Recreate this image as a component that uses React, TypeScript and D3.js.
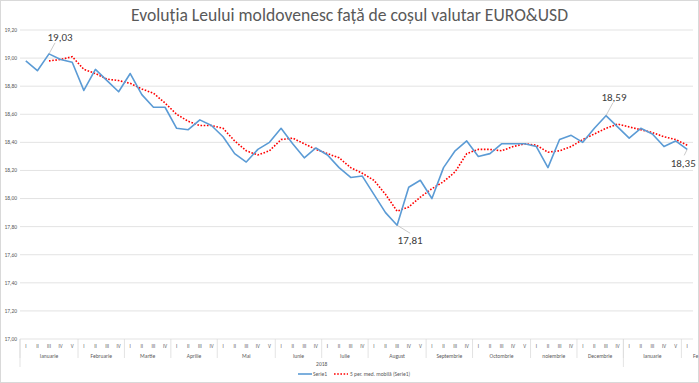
import React from "react";
import * as d3 from "d3";

const TITLE = "Evoluția Leului moldovenesc față de coșul valutar EURO&USD";
const months = ["Ianuarie", "Februarie", "Martie", "Aprilie", "Mai", "Iunie", "Iulie", "August", "Septembrie", "Octombrie", "noiembrie", "Decembrie", "Ianuarie", "Fe"];
const weeksPerMonth = [5, 4, 4, 4, 5, 4, 4, 5, 4, 5, 4, 4, 5, 1];
const romanWeeks = ["I", "II", "III", "IV", "V"];
const years = ["2018", ""];
const monthsPerYear = [12, 2];
const yTicks = [17.0, 17.2, 17.4, 17.6, 17.8, 18.0, 18.2, 18.4, 18.6, 18.8, 19.0, 19.2];

const serie1 = [
  18.98, 18.91, 19.03, 18.99, 18.97, 18.77, 18.92, 18.84, 18.76, 18.89,
  18.74, 18.65, 18.65, 18.50, 18.49, 18.56, 18.52, 18.44, 18.32, 18.26,
  18.35, 18.40, 18.50, 18.39, 18.29, 18.36, 18.31, 18.22, 18.15, 18.16,
  18.03, 17.90, 17.81, 18.08, 18.13, 18.00, 18.22, 18.34, 18.41, 18.30,
  18.32, 18.39, 18.39, 18.39, 18.37, 18.22, 18.42, 18.45, 18.40, 18.50,
  18.59, 18.51, 18.43, 18.50, 18.46, 18.37, 18.41, 18.35,
];
const movingAvg: (number | null)[] = [
  null, null, 18.98, 18.99, 19.01, 18.92, 18.89, 18.85, 18.84, 18.82,
  18.78, 18.75, 18.68, 18.60, 18.55, 18.52, 18.52, 18.50, 18.41, 18.34,
  18.31, 18.34, 18.42, 18.43, 18.39, 18.35, 18.32, 18.29, 18.22, 18.18,
  18.13, 18.03, 17.91, 17.94, 18.01, 18.07, 18.12, 18.19, 18.32, 18.35,
  18.35, 18.34, 18.37, 18.39, 18.38, 18.33, 18.34, 18.37, 18.42, 18.46,
  18.50, 18.53, 18.51, 18.49, 18.47, 18.44, 18.42, 18.38,
];
const legendNames = ["Serie1", "5 per. med. mobilă (Serie1)"];
const annotations = [
  { i: 2, dx: 11, dy: -17, lx: 6, ly: -11 },
  { i: 32, dx: 13, dy: 15, lx: 13, ly: 8 },
  { i: 50, dx: 8, dy: -19, lx: 7, ly: -13 },
  { i: 57, dx: -4, dy: 14, lx: -3, ly: 6 },
];

const W = 699, H = 383;
const L = 20, R = 693, T = 30, B = 339;
const FONT = "Calibri, Carlito, 'Open Sans', 'Liberation Sans', sans-serif";
const GRID = "#d9d9d9";
const TXT = "#595959";

const locale = d3.formatLocale({ decimal: ",", thousands: ".", grouping: [3], currency: ["", ""] });
const fmt = locale.format(".2f");

export default function App() {
  const idx = serie1.map((_, i) => i);
  const x = d3.scaleBand<number>().domain(idx).range([L, R]).padding(0);
  const cx = (i: number) => (x(i) as number) + x.bandwidth() / 2;
  const y = d3.scaleLinear().domain([17, 19.2]).range([B, T]);

  const line1 = d3.line<number>().x((_, i) => cx(i)).y((d) => y(d));
  const line2 = d3
    .line<number | null>()
    .defined((d) => d != null)
    .x((_, i) => cx(i))
    .y((d) => y(d as number));

  const weekLabels: { i: number; t: string }[] = [];
  const monthSpans: { start: number; end: number; name: string }[] = [];
  let k = 0;
  weeksPerMonth.forEach((n, m) => {
    monthSpans.push({ start: k, end: k + n, name: months[m] });
    for (let w = 0; w < n; w++) weekLabels.push({ i: k + w, t: romanWeeks[w] });
    k += n;
  });
  const yearSpans: { start: number; end: number; name: string }[] = [];
  let mm = 0;
  monthsPerYear.forEach((n, yi) => {
    const s = monthSpans[mm].start;
    const e = monthSpans[mm + n - 1].end;
    yearSpans.push({ start: s, end: e, name: years[yi] });
    mm += n;
  });
  const edge = (i: number) => (i >= idx.length ? R : (x(i) as number));

  return (
    <svg width={W} height={H} style={{ position: "absolute", left: 0, top: 0, background: "#fff" }} fontFamily={FONT}>
      <rect x={0.5} y={0.5} width={W - 1} height={H - 1} fill="#fff" stroke={GRID} />
      <text x={W / 2} y={21} textAnchor="middle" fontSize={17.6} fill={TXT}>
        {TITLE}
      </text>
      {yTicks.map((t) => (
        <g key={t}>
          <line x1={L} x2={R} y1={y(t)} y2={y(t)} stroke={GRID} strokeWidth={0.75} />
          <text x={17} y={y(t)} dy="0.35em" textAnchor="end" fontSize={5.5} fill={TXT}>
            {fmt(t)}
          </text>
        </g>
      ))}
      <g>
        {weekLabels.map((w) => (
          <text key={w.i} x={cx(w.i)} y={346} dy="0.35em" textAnchor="middle" fontSize={5} fill={TXT}>
            {w.t}
          </text>
        ))}
        {monthSpans.map((s, j) => {
          const x0 = edge(s.start);
          const x1 = edge(s.end);
          const full = x1 - x0 > 20;
          return (
            <text
              key={j}
              x={full ? (x0 + x1) / 2 : x1}
              y={356}
              dy="0.35em"
              textAnchor={full ? "middle" : "start"}
              fontSize={5.5}
              fill={TXT}
            >
              {s.name}
            </text>
          );
        })}
        {monthSpans.map((s, j) => (
          <line key={"ms" + j} x1={edge(s.start)} x2={edge(s.start)} y1={B} y2={358} stroke={GRID} strokeWidth={0.75} />
        ))}
        {yearSpans.map((s, j) => (
          <g key={"ys" + j}>
            <line x1={edge(s.start)} x2={edge(s.start)} y1={B} y2={367} stroke={GRID} strokeWidth={0.75} />
            <text x={(edge(s.start) + edge(s.end)) / 2} y={364} dy="0.35em" textAnchor="middle" fontSize={5.5} fill={TXT}>
              {s.name}
            </text>
          </g>
        ))}
      </g>
      <path d={line2(movingAvg) || ""} fill="none" stroke="#ff0000" strokeWidth={1.6} strokeDasharray="1.6,1.6" />
      <path d={line1(serie1) || ""} fill="none" stroke="#5b9bd5" strokeWidth={1.6} strokeLinejoin="round" />
      {annotations.map((a) => {
        const px = cx(a.i);
        const py = y(serie1[a.i]);
        return (
          <g key={a.i}>
            <line x1={px} y1={py} x2={px + a.lx} y2={py + a.ly} stroke="#a6a6a6" strokeWidth={0.6} />
            <text x={px + a.dx} y={py + a.dy} dy="0.35em" textAnchor="middle" fontSize={11} fill="#404040">
              {fmt(serie1[a.i])}
            </text>
          </g>
        );
      })}
      <line x1={298} x2={312} y1={374} y2={374} stroke="#5b9bd5" strokeWidth={1.6} />
      <text x={313} y={374} dy="0.35em" fontSize={5.5} fill={TXT}>
        {legendNames[0]}
      </text>
      <line x1={334} x2={348} y1={374} y2={374} stroke="#ff0000" strokeWidth={1.6} strokeDasharray="1.6,1.6" />
      <text x={350} y={374} dy="0.35em" fontSize={5.5} fill={TXT}>
        {legendNames[1]}
      </text>
    </svg>
  );
}
